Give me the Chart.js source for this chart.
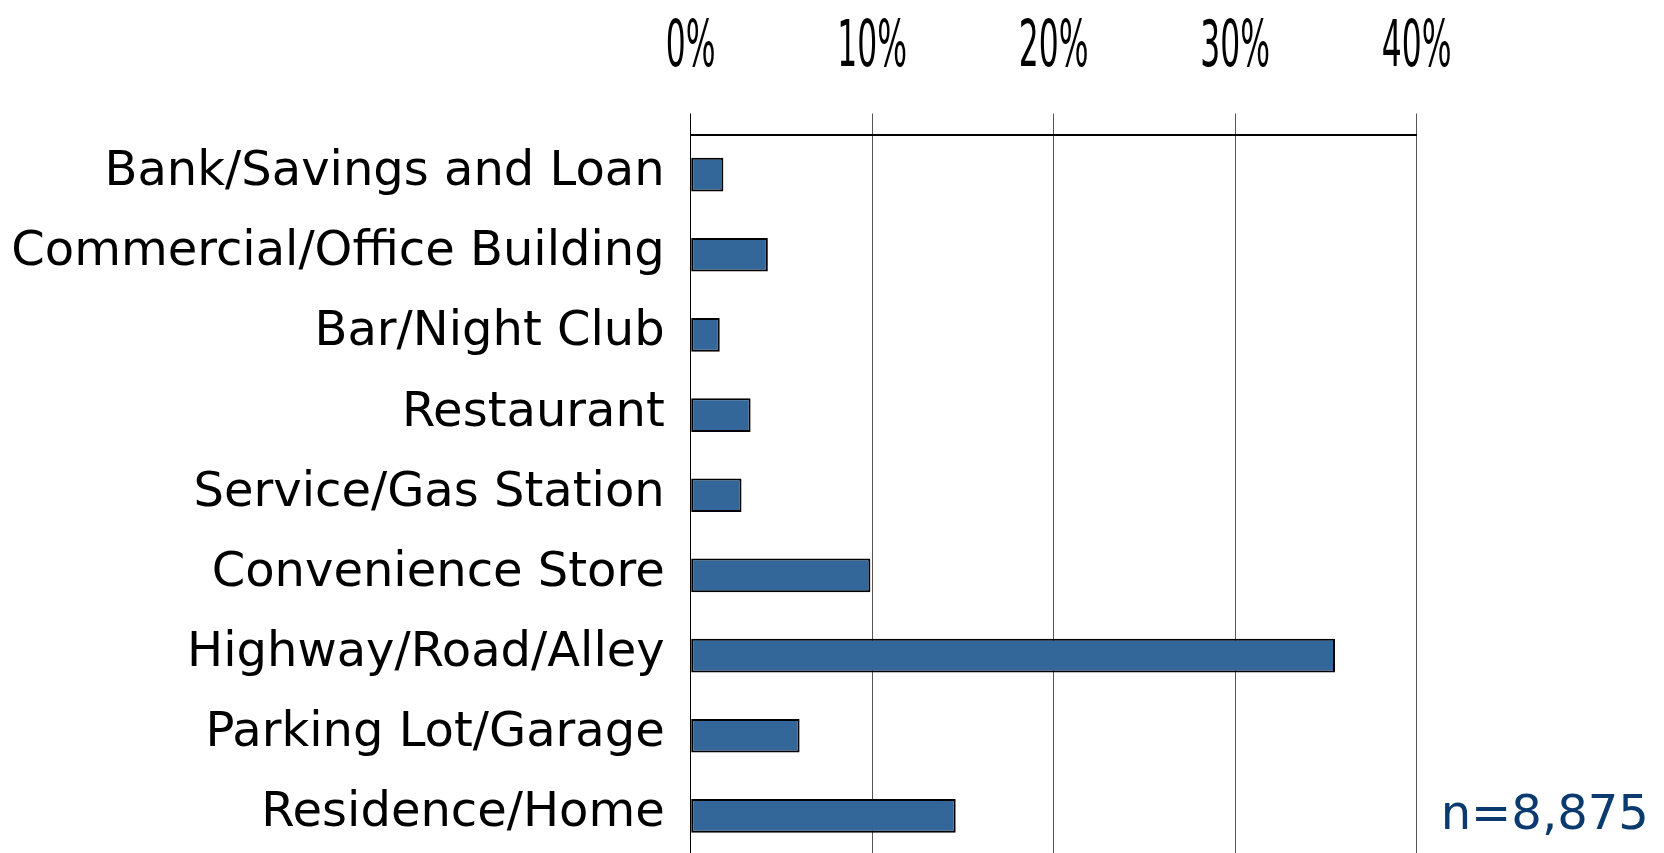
<!DOCTYPE html>
<html>
<head>
<meta charset="utf-8">
<script src="https://cdn.jsdelivr.net/npm/chart.js@4.4.1/dist/chart.umd.min.js"></script>
<style>
  html, body { margin: 0; padding: 0; background: #fff; overflow: hidden; }
  canvas { display: block; }
</style>
</head>
<body>
<canvas id="c" width="1664" height="856"></canvas>
<script>
const categories = [
  'Bank/Savings and Loan',
  'Commercial/Office Building',
  'Bar/Night Club',
  'Restaurant',
  'Service/Gas Station',
  'Convenience Store',
  'Highway/Road/Alley',
  'Parking Lot/Garage',
  'Residence/Home'
];
const values = [1.8, 4.25, 1.6, 3.3, 2.8, 9.9, 35.5, 6.0, 14.6];
const tickValues = [0, 10, 20, 30, 40];
const tickLabels = ['0%', '10%', '20%', '30%', '40%'];
const noteText = 'n=8,875';

const condensedTicks = {
  id: 'condensedTicks',
  afterDraw(chart) {
    const s = chart.scales.x;
    const ctx = chart.ctx;
    ctx.save();
    ctx.fillStyle = '#000';
    ctx.font = '64px "DejaVu Sans"';
    ctx.textAlign = 'center';
    ctx.textBaseline = 'alphabetic';
    tickValues.forEach((v, i) => {
      const x = s.getPixelForValue(v);
      ctx.save();
      ctx.translate(x, chart.chartArea.top - 69);
      ctx.scale(0.49, 1);
      ctx.fillText(tickLabels[i], 0, 0);
      ctx.restore();
    });
    ctx.font = '48px "DejaVu Sans"';
    ctx.fillStyle = '#0b3a6e';
    ctx.textAlign = 'left';
    ctx.fillText(noteText, chart.chartArea.right + 24, chart.chartArea.bottom - 27);
    ctx.restore();
  }
};

new Chart(document.getElementById('c'), {
  type: 'bar',
  data: {
    labels: categories,
    datasets: [{
      data: values,
      backgroundColor: '#336699',
      borderColor: '#000',
      borderWidth: 2,
      borderSkipped: false,
      categoryPercentage: 1,
      barPercentage: 0.42
    }]
  },
  options: {
    indexAxis: 'y',
    responsive: false,
    animation: false,
    devicePixelRatio: 1,
    layout: { padding: { left: 0, top: 0, right: 247.3, bottom: 0 } },
    plugins: { legend: { display: false }, tooltip: { enabled: false } },
    scales: {
      x: {
        position: 'top',
        min: 0,
        max: 40,
        afterBuildTicks(s) { s.ticks = tickValues.map(v => ({ value: v })); },
        afterFit(s) { s.height = 134.5; s.paddingLeft = 0; s.paddingRight = 0; },
        ticks: { display: false },
        grid: {
          drawTicks: true,
          tickLength: 21,
          lineWidth: 1,
          color: (c) => (c.tick && c.tick.value === 0 ? '#000' : '#555')
        },
        border: { display: true, color: '#000', width: 2 }
      },
      y: {
        afterFit(s) { s.width = 690.7; s.paddingTop = 0; s.paddingBottom = 0; },
        grid: { display: false, drawTicks: false },
        border: { display: true, color: '#000', width: 1 },
        ticks: {
          color: '#000',
          padding: 26,
          labelOffset: -2,
          font: { family: '"DejaVu Sans"', size: 48 },
          autoSkip: false
        }
      }
    }
  },
  plugins: [condensedTicks]
});
</script>
</body>
</html>
